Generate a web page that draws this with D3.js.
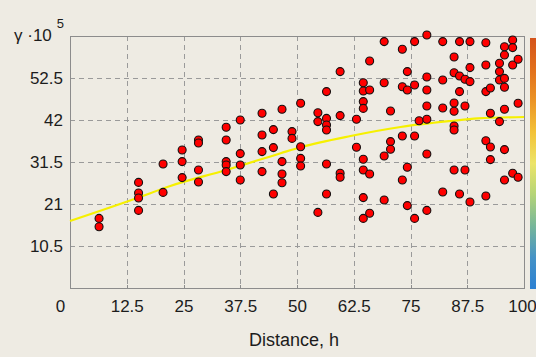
<!DOCTYPE html>
<html>
<head>
<meta charset="utf-8">
<script src="https://cdn.jsdelivr.net/npm/d3@7"></script>
<style>
  body { margin: 0; background: #eeebe3; }
  svg { display: block; font-family: 'Liberation Sans', Arial, sans-serif; }
  .grid line { stroke: #9a9a9a; stroke-dasharray: 5,4; }
  .axis text { font-size: 17px; fill: #1c1c1c; }
</style>
</head>
<body>
<div id="chart"></div>
<script>
// semivariogram cloud: [distance h, gamma * 1e-5]
const samples = [
  [6.4, 17.4], [6.4, 15.3],
  [15.1, 26.4], [15.1, 23.75], [15.1, 22.5], [15.1, 19.4],
  [20.5, 31], [20.5, 23.9],
  [24.7, 34.5], [24.7, 31.6], [24.7, 27.6],
  [28.3, 37], [28.3, 36.25], [28.3, 29.5], [28.3, 26.5],
  [34.4, 40.2], [34.4, 37], [34.4, 31.6], [34.4, 30.75], [34.4, 29.1],
  [37.5, 42], [37.5, 33.6], [37.5, 30.75], [37.5, 27],
  [42.3, 43.7], [42.3, 38.25], [42.3, 34.1], [42.3, 29.1],
  [44.8, 39.6], [44.8, 35.1], [44.8, 23.5],
  [46.7, 44.7], [46.7, 31.6], [46.7, 28.5], [46.7, 26.3],
  [48.9, 39.1], [48.9, 37.4],
  [50.8, 46.2], [50.8, 35.3], [50.8, 32.4], [50.8, 30.5],
  [54.6, 43.8], [54.6, 41.6], [54.6, 18.9],
  [56.5, 49.1], [56.5, 42.4], [56.5, 40.75], [56.5, 39.5], [56.5, 31], [56.5, 23.5],
  [59.5, 54.1], [59.5, 43.1], [59.5, 28.7], [59.5, 27.7],
  [63.1, 42.2], [63.1, 35.2],
  [64.6, 51.3], [64.6, 49.25], [64.6, 46.6], [64.6, 44.9], [64.6, 32.2], [64.6, 29.5], [64.6, 22.6], [64.6, 17.4],
  [66.0, 56.75], [66.0, 49.5], [66.0, 28.5], [66.0, 18.7],
  [69.2, 61.6], [69.2, 51.3], [69.2, 33], [69.2, 22],
  [70.6, 44.25], [70.6, 36.6], [70.6, 34.7],
  [73.2, 59.7], [73.2, 50.3], [73.2, 38], [73.2, 27],
  [74.3, 54.1], [74.3, 49.5], [74.3, 30.2], [74.3, 20.6],
  [75.9, 61.6], [75.9, 50.75], [75.9, 38], [75.9, 17.4],
  [76.9, 41.8],
  [78.6, 63.25], [78.6, 52.75], [78.6, 49.5], [78.6, 45.5], [78.6, 42.2], [78.6, 33.5], [78.6, 19.4],
  [82.1, 61.6], [82.1, 52], [82.1, 45], [82.1, 24],
  [84.6, 57.75], [84.6, 53.8], [84.6, 46.25], [84.6, 44.2], [84.6, 40.5], [84.6, 39.5], [84.6, 29.5],
  [85.8, 61.6], [85.8, 53], [85.8, 49.1], [85.8, 23.5],
  [87.0, 52.2], [87.0, 45.5], [87.0, 29.5],
  [88.1, 61.6], [88.1, 55.1], [88.1, 51.6], [88.1, 21.5],
  [91.6, 61.3], [91.6, 55.75], [91.6, 49.1], [91.6, 36.8], [91.6, 23],
  [92.6, 50], [92.6, 43.7], [92.6, 35.25], [92.6, 32.1],
  [94.6, 56.2], [94.6, 54.1], [94.6, 52], [94.6, 41.6],
  [95.7, 60.3], [95.7, 58.25], [95.7, 52.4], [95.7, 50.2], [95.7, 44.7], [95.7, 34.6], [95.7, 27],
  [97.5, 62], [97.5, 60.1], [97.5, 55.75], [97.5, 28.7],
  [98.7, 57.2], [98.7, 46.2], [98.7, 27.7]
];

// fitted model curve
const modelH = [0, 14.8, 22.1, 34.4, 46.4, 50.8, 61.8, 72.8, 83.9, 89.8, 100];
const modelGamma = [16.75, 22.5, 25.5, 29.5, 33.7, 35.2, 38, 40.25, 41.75, 42.4, 42.75];

const xTicks = [0, 12.5, 25, 37.5, 50, 62.5, 75, 87.5, 100];
const yTicks = [10.5, 21, 31.5, 42, 52.5];
const rampColors = ['#d4541c', '#e2701c', '#eb9426', '#f3c238', '#ece468', '#b4d478', '#76b69a', '#4592c6', '#2c80d2'];

const WIDTH = 536;
const HEIGHT = 357;
const MARGIN = { top: 36, right: 12, bottom: 69, left: 70 };
const plotW = WIDTH - MARGIN.left - MARGIN.right;
const plotH = HEIGHT - MARGIN.top - MARGIN.bottom;

const svg = d3.select('#chart')
  .append('svg')
  .attr('width', WIDTH)
  .attr('height', HEIGHT);

svg.append('rect')
  .attr('width', WIDTH)
  .attr('height', HEIGHT)
  .attr('fill', '#eeebe3');

const x = d3.scaleLinear().domain([0, 100]).range([0, plotW]);
const y = d3.scaleLinear().domain([0, 63]).range([plotH, 0]);

const g = svg.append('g')
  .attr('transform', 'translate(' + MARGIN.left + ',' + MARGIN.top + ')');

// grid
const grid = g.append('g').attr('class', 'grid');
grid.selectAll('line.v')
  .data(xTicks.slice(1, -1))
  .join('line')
  .attr('class', 'v')
  .attr('x1', (d) => Math.round(x(d)) + 0.5)
  .attr('x2', (d) => Math.round(x(d)) + 0.5)
  .attr('y1', 0)
  .attr('y2', plotH);
grid.selectAll('line.h')
  .data(yTicks)
  .join('line')
  .attr('class', 'h')
  .attr('x1', 0)
  .attr('x2', plotW)
  .attr('y1', (d) => Math.round(y(d)) + 0.5)
  .attr('y2', (d) => Math.round(y(d)) + 0.5);

// frame
g.append('rect')
  .attr('x', 0.5)
  .attr('y', 0.5)
  .attr('width', plotW)
  .attr('height', plotH)
  .attr('fill', 'none')
  .attr('stroke', '#8c8c8c');

// small inner ticks on the bottom edge
g.selectAll('line.tick-b')
  .data(xTicks)
  .join('line')
  .attr('class', 'tick-b')
  .attr('x1', (d) => Math.round(x(d)) + 0.5)
  .attr('x2', (d) => Math.round(x(d)) + 0.5)
  .attr('y1', plotH)
  .attr('y2', plotH - 3)
  .attr('stroke', '#8c8c8c');

// model line
const line = d3.line()
  .x((d, i) => x(modelH[i]))
  .y((d) => y(d))
  .curve(d3.curveMonotoneX);
g.append('path')
  .datum(modelGamma)
  .attr('d', line)
  .attr('fill', 'none')
  .attr('stroke', '#f6f000')
  .attr('stroke-width', 2.2);

// points
g.selectAll('circle.dot')
  .data(samples)
  .join('circle')
  .attr('class', 'dot')
  .attr('cx', (d) => x(d[0]))
  .attr('cy', (d) => y(d[1]))
  .attr('r', 4)
  .attr('fill', '#ff0000')
  .attr('stroke', '#111')
  .attr('stroke-width', 1.1);

// x axis labels
const xAxis = g.append('g')
  .attr('class', 'axis')
  .attr('transform', 'translate(0,' + plotH + ')')
  .call(d3.axisBottom(x).tickValues(xTicks).tickSize(0).tickPadding(12).tickFormat((d) => String(d)));
xAxis.select('.domain').remove();
xAxis.selectAll('text').attr('font-family', null).attr('font-size', null);
xAxis.selectAll('.tick').filter((d) => d === 0).select('text').attr('x', -10);
// last label sits against the right edge of the window
xAxis.selectAll('.tick').filter((d) => d === 100).select('text').attr('x', -2);

// y axis labels
const yAxis = g.append('g')
  .attr('class', 'axis')
  .call(d3.axisLeft(y).tickValues(yTicks).tickSize(0).tickPadding(7).tickFormat((d) => String(d)));
yAxis.select('.domain').remove();
yAxis.selectAll('text').attr('font-family', null).attr('font-size', null);

// axis titles
svg.append('text')
  .attr('x', 294)
  .attr('y', 346)
  .attr('text-anchor', 'middle')
  .attr('font-size', 18)
  .attr('fill', '#1c1c1c')
  .text('Distance, h');

const yTitle = svg.append('text')
  .attr('x', 14)
  .attr('y', 41)
  .attr('font-size', 17)
  .attr('fill', '#1c1c1c');
yTitle.append('tspan').text('γ ·10');
yTitle.append('tspan')
  .attr('dx', 5)
  .attr('dy', -13)
  .attr('font-size', 13)
  .text('5');

// colour ramp on the right
const defs = svg.append('defs');
const grad = defs.append('linearGradient')
  .attr('id', 'ramp')
  .attr('x1', 0).attr('y1', 0)
  .attr('x2', 0).attr('y2', 1);
grad.selectAll('stop')
  .data(rampColors)
  .join('stop')
  .attr('offset', (d, i) => i / (rampColors.length - 1))
  .attr('stop-color', (d) => d);
svg.append('rect')
  .attr('x', 530)
  .attr('y', 38)
  .attr('width', 8)
  .attr('height', 251)
  .attr('fill', 'url(#ramp)');
</script>
</body>
</html>
